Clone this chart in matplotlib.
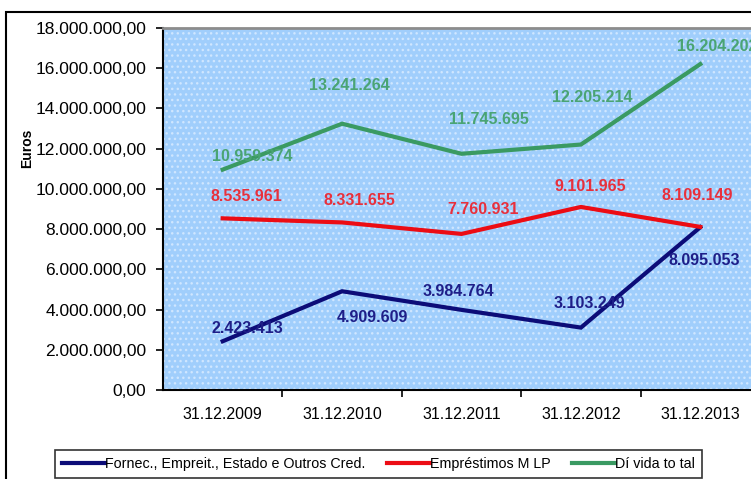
import matplotlib
matplotlib.use("Agg")
import matplotlib.pyplot as plt
from matplotlib.ticker import FuncFormatter, FixedLocator, MultipleLocator
from matplotlib.patches import Rectangle

plt.rcParams['font.family'] = ['Liberation Sans', 'DejaVu Sans']

categories = ["31.12.2009", "31.12.2010", "31.12.2011", "31.12.2012", "31.12.2013"]
fornec = [2423413, 4909609, 3984764, 3103249, 8095053]
emprestimos = [8535961, 8331655, 7760931, 9101965, 8109149]
divida = [10959374, 13241264, 11745695, 12205214, 16204202]
series_names = ["Fornec., Empreit., Estado e Outros Cred.", "Empréstimos M LP", "Dí vida to tal"]

line_colors = ["#0c0c78", "#ec0c14", "#3a9a62"]
label_colors = ["#1e1e88", "#e8303c", "#4aa474"]
# label offsets in pixels (dx, dy up)
offsets = [
    [(25, 13), (30, -26), (-3, 18), (8, 24), (4, -33)],
    [(24, 22), (17, 22), (22, 24), (9, 20), (-3, 31)],
    [(30, 13), (7, 38), (27, 34), (11, 47), (17, 18)],
]

def fmt_int(v):
    return f"{int(round(v)):,}".replace(",", ".")

def fmt_axis(v, pos):
    s = f"{v:,.2f}"
    return s.replace(",", "X").replace(".", ",").replace("X", ".")

fig = plt.figure(figsize=(7.51, 4.79), dpi=100)
W, H = 751, 479
ax = fig.add_axes([163 / W, 1 - 390 / H, 597 / W, 362 / H])
ax.set_facecolor("#a0cefc")
ax.add_patch(Rectangle((0, 0), 1, 1, transform=ax.transAxes, facecolor="none",
                       edgecolor="#cfe6ff", hatch="...", linewidth=0, zorder=0.5))

x = list(range(len(categories)))
data = [fornec, emprestimos, divida]
handles = []
for i, ys in enumerate(data):
    h, = ax.plot(x, ys, color=line_colors[i], linewidth=3, label=series_names[i],
                 solid_joinstyle="miter", zorder=3)
    handles.append(h)
    for j, (xx, yy) in enumerate(zip(x, ys)):
        dx, dy = offsets[i][j]
        ax.annotate(fmt_int(yy), (xx, yy), xytext=(dx, dy), textcoords="offset pixels",
                    ha="center", va="center", fontsize=11.5, fontweight="bold",
                    color=label_colors[i], annotation_clip=False, zorder=4)

ax.set_xlim(-0.5, len(categories) - 0.5)
ax.set_ylim(0, 18000000)
ax.yaxis.set_major_locator(MultipleLocator(2000000))
ax.yaxis.set_major_formatter(FuncFormatter(fmt_axis))
ax.set_xticks(x)
ax.set_xticklabels(categories)
ax.xaxis.set_minor_locator(FixedLocator([k + 0.5 for k in range(len(categories) - 1)]))
ax.tick_params(axis="x", which="major", length=0, pad=12, labelsize=11.5)
ax.tick_params(axis="x", which="minor", length=5, width=1.2, direction="out")
ax.tick_params(axis="y", length=5, width=1.2, direction="out", labelsize=12.5, pad=7)
for s in ["left", "bottom"]:
    ax.spines[s].set_color("black")
    ax.spines[s].set_linewidth(1.5)
ax.spines["top"].set_color("#8c8c8c")
ax.spines["top"].set_linewidth(2)
ax.spines["right"].set_visible(False)

fig.text(27 / W, 1 - 148 / H, "Euros", rotation=90, ha="center", va="center",
         fontsize=10, fontweight="bold")

# outer chart frame
fig.patches.append(Rectangle((6 / W, -0.05), 1.1, 1 - 12 / H + 0.05, transform=fig.transFigure,
                             facecolor="none", edgecolor="black", linewidth=1.5, zorder=0))

leg = fig.legend(handles=handles, loc="upper left", bbox_to_anchor=(55 / W, 1 - 450 / H),
                 ncol=3, frameon=True, fancybox=False, fontsize=10.3, handlelength=3.0,
                 handletextpad=0.0, columnspacing=1.5, borderpad=0.5, borderaxespad=0)
leg.get_frame().set_edgecolor("black")
leg.get_frame().set_linewidth(1.2)

fig.savefig("out.png", dpi=100)
